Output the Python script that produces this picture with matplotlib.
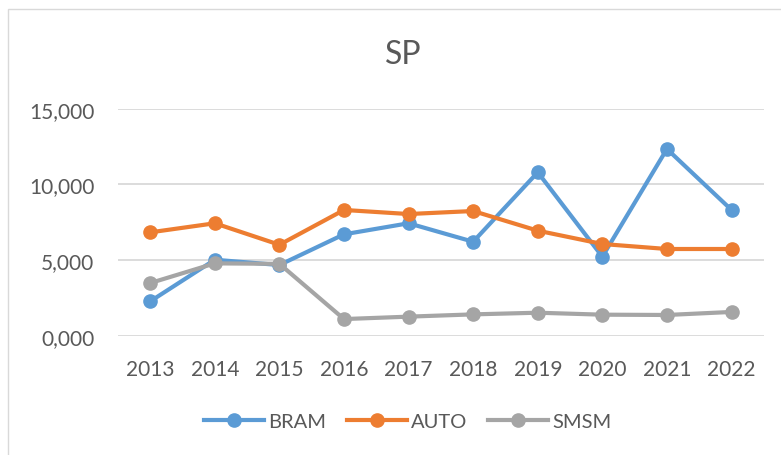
import matplotlib.pyplot as plt
from matplotlib.ticker import FuncFormatter
from matplotlib.patches import Rectangle

# data
years = ['2013', '2014', '2015', '2016', '2017', '2018', '2019', '2020', '2021', '2022']
bram = [2.27, 5.02, 4.67, 6.70, 7.43, 6.21, 10.80, 5.22, 12.34, 8.31]
auto = [6.83, 7.43, 6.01, 8.31, 8.04, 8.24, 6.94, 6.06, 5.73, 5.73]
smsm = [3.48, 4.78, 4.75, 1.10, 1.26, 1.41, 1.52, 1.39, 1.37, 1.57]
yticks = [0, 5, 10, 15]

plt.rcParams['font.family'] = ['Lato', 'DejaVu Sans']
txt = '#595959'

fig = plt.figure(figsize=(7.81, 4.56), dpi=100)
ax = fig.add_axes([0.151, 0.2616, 0.827, 0.4978])

# chart border
fig.patches.append(Rectangle((8 / 781, -0.01), 1.0, 1 - 10 / 456 + 0.01,
                             transform=fig.transFigure, fill=False,
                             edgecolor='#D9D9D9', linewidth=1))

x = range(len(years))
ax.plot(x, bram, color='#5B9BD5', lw=3, marker='o', ms=9.5, label='BRAM', zorder=3)
ax.plot(x, auto, color='#ED7D31', lw=3, marker='o', ms=9.5, label='AUTO', zorder=3)
ax.plot(x, smsm, color='#A5A5A5', lw=3, marker='o', ms=9.5, label='SMSM', zorder=3)

ax.set_xlim(-0.5, len(years) - 0.5)
ax.set_ylim(0, 15)
ax.set_yticks(yticks)
ax.yaxis.set_major_formatter(FuncFormatter(lambda v, p: f'{v:.3f}'.replace('.', ',')))
ax.set_xticks(list(x))
ax.set_xticklabels(years)
ax.grid(axis='y', color='#D9D9D9', lw=1.3)
ax.set_axisbelow(True)
for s in ax.spines.values():
    s.set_visible(False)
ax.tick_params(length=0, labelsize=15, colors=txt)
ax.tick_params(axis='x', pad=17)
ax.tick_params(axis='y', pad=17)

fig.text(0.516, 0.879, 'SP', ha='center', va='center', fontsize=23, color=txt)

leg = fig.legend(loc='center', bbox_to_anchor=(0.522, 0.074), ncol=3, frameon=False,
                 fontsize=14.5, handlelength=3.0, columnspacing=1.0, handletextpad=0.2)
for t in leg.get_texts():
    t.set_color(txt)

fig.savefig('out.png', dpi=100)
